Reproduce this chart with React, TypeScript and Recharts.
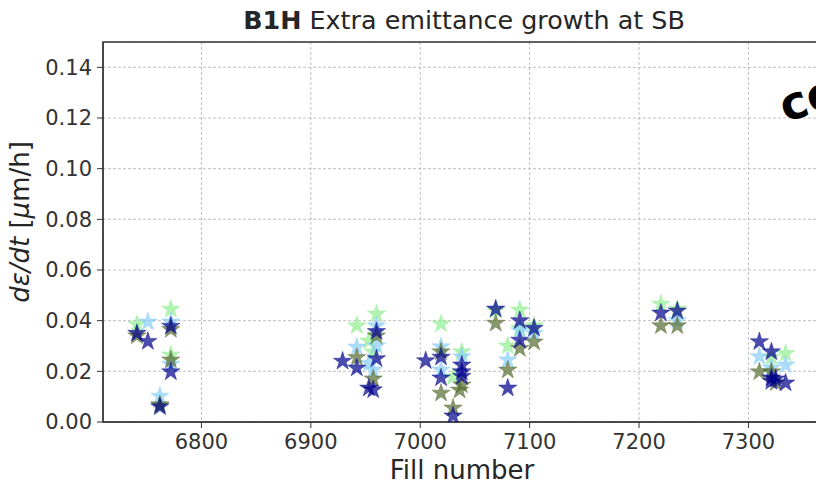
import { ScatterChart, Scatter, XAxis, YAxis, CartesianGrid, ReferenceArea, Symbols } from 'recharts';

// fill numbers and extra emittance growth (um/h), one pair of arrays per series
const greenFills = [6741, 6762, 6772, 6772, 6942, 6953, 6957, 6960, 7019, 7030, 7038, 7069, 7080, 7091, 7091, 7104, 7220, 7235, 7321, 7334];
const greenValues = [0.0385, 0.0065, 0.0445, 0.0265, 0.038, 0.032, 0.0276, 0.0426, 0.0387, 0.0178, 0.0277, 0.044, 0.030, 0.0442, 0.037, 0.038, 0.0465, 0.0445, 0.0256, 0.027];

const lightBlueFills = [6751, 6762, 6772, 6772, 6942, 6953, 6957, 6960, 6960, 7019, 7019, 7038, 7080, 7091, 7104, 7235, 7310, 7321, 7334];
const lightBlueValues = [0.0395, 0.0102, 0.0395, 0.0228, 0.0296, 0.0232, 0.0205, 0.038, 0.030, 0.0297, 0.0205, 0.0258, 0.0245, 0.036, 0.035, 0.040, 0.0258, 0.0213, 0.0225];

const oliveFills = [6741, 6762, 6772, 6772, 6942, 6957, 6960, 7019, 7019, 7030, 7036, 7038, 7069, 7080, 7091, 7104, 7220, 7235, 7310, 7321, 7325];
const oliveValues = [0.034, 0.0068, 0.0365, 0.0245, 0.0255, 0.017, 0.034, 0.0277, 0.0114, 0.0055, 0.0126, 0.0146, 0.039, 0.0205, 0.029, 0.0316, 0.038, 0.038, 0.0198, 0.0198, 0.0155];

const navyFills = [6741, 6751, 6762, 6772, 6772, 6929, 6942, 6953, 6957, 6960, 6960, 7005, 7019, 7019, 7030, 7038, 7038, 7038, 7069, 7080, 7091, 7091, 7104, 7220, 7235, 7310, 7321, 7321, 7321, 7325, 7334];
const navyValues = [0.035, 0.0318, 0.006, 0.0378, 0.0198, 0.024, 0.0213, 0.0134, 0.0127, 0.0357, 0.025, 0.0242, 0.0256, 0.0174, 0.0024, 0.0225, 0.0198, 0.018, 0.0446, 0.0134, 0.040, 0.0323, 0.037, 0.043, 0.0438, 0.0317, 0.0277, 0.0174, 0.016, 0.017, 0.0154];

const xTicks = [6800, 6900, 7000, 7100, 7200, 7300];
const yTicks = [0, 0.02, 0.04, 0.06, 0.08, 0.1, 0.12, 0.14];

const zip = (fills: number[], values: number[]) => fills.map((f, i) => ({ fill: f, value: values[i] }));

const series = [
  { name: 'green', data: zip(greenFills, greenValues), color: '#90ee90' },
  { name: 'lightblue', data: zip(lightBlueFills, lightBlueValues), color: '#87cefa' },
  { name: 'olive', data: zip(oliveFills, oliveValues), color: '#556b2f' },
  { name: 'navy', data: zip(navyFills, navyValues), color: '#00008b' },
];

const font = '"DejaVu Sans", sans-serif';
const tickStyle = { fill: '#333', fontSize: 21, fontFamily: font };

// star marker, drawn with explicit colour so nothing gets overridden
const starShape = (color: string) => (props: any) => (
  <Symbols cx={props.cx} cy={props.cy} type="star" size={105} fill={color} fillOpacity={0.7} stroke={color} strokeOpacity={0.4} strokeWidth={1} />
);

export default function App() {
  return (
    <div style={{ position: 'absolute', left: 0, top: 0, width: 816, height: 493, overflow: 'hidden', background: '#fff', fontFamily: font }}>
      <div style={{ position: 'absolute', left: 0, width: 928, top: 5, textAlign: 'center', fontSize: 25.4, color: '#262626', whiteSpace: 'nowrap' }}>
        <b>B1H</b> Extra emittance growth at SB
      </div>
      <ScatterChart width={900} height={493} margin={{ top: 42, right: 75, bottom: 0, left: 0 }}>
        <CartesianGrid stroke="#b0b0b0" strokeDasharray="3 2" strokeWidth={0.8} />
        <XAxis
          type="number"
          dataKey="fill"
          domain={[6710, 7370]}
          ticks={xTicks}
          height={71}
          stroke="#333"
          tick={tickStyle}
          tickSize={6}
          tickMargin={6}
          allowDataOverflow
        />
        <YAxis
          type="number"
          dataKey="value"
          domain={[0, 0.15]}
          ticks={yTicks}
          width={103}
          stroke="#333"
          tick={tickStyle}
          tickSize={6}
          tickMargin={5}
          tickFormatter={(v: number) => v.toFixed(2)}
          allowDataOverflow
        />
        <ReferenceArea x1={6710} x2={7370} y1={0} y2={0.15} fill="none" stroke="#333" strokeWidth={1.5} ifOverflow="visible" />
        {series.map((s) => (
          <Scatter
            key={s.name}
            name={s.name}
            data={s.data}
            shape={starShape(s.color)}
            fill={s.color}
            isAnimationActive={false}
          />
        ))}
      </ScatterChart>
      <div style={{ position: 'absolute', left: 312, width: 300, top: 455, textAlign: 'center', fontSize: 26, color: '#262626' }}>
        Fill number
      </div>
      <div style={{ position: 'absolute', left: -130, width: 300, top: 207, textAlign: 'center', fontSize: 26, color: '#262626', transform: 'rotate(-90deg)', whiteSpace: 'nowrap' }}>
        <i>dε</i><i>/dt</i> [<i>μ</i>m/h]
      </div>
      <div style={{ position: 'absolute', left: 789, top: 79, fontSize: 46, fontWeight: 'bold', color: '#000', transform: 'rotate(-18deg)', transformOrigin: 'left bottom', whiteSpace: 'nowrap' }}>
        co
      </div>
    </div>
  );
}
